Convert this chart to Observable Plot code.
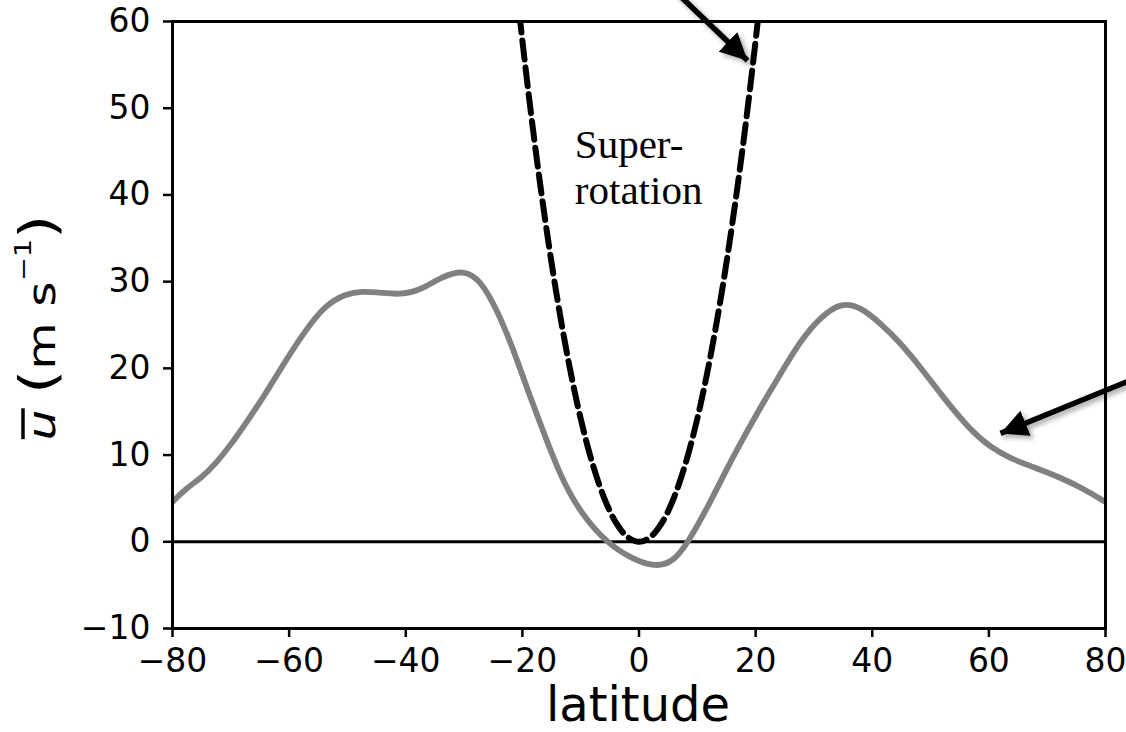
<!DOCTYPE html>
<html><head><meta charset="utf-8">
<script src="https://cdn.jsdelivr.net/npm/d3@7"></script>
<script src="https://cdn.jsdelivr.net/npm/@observablehq/plot@0.6"></script>
<style>
html,body{margin:0;padding:0;background:#fff;overflow:hidden;}
</style></head><body><div id="chart"></div>
<script>
const obsLat = [-80, -77.8, -75, -72.6, -70, -67.5, -64, -60.6, -57.2, -53.8, -50.3, -47.6, -44, -40.9, -37.5, -34, -30.1, -27.2, -24.3, -21.5, -19.1, -16.9, -13.4, -10, -5.4, -1.4, 2.8, 5.9, 8.3, 11.8, 15.2, 17.5, 20.9, 24.3, 27.7, 31.1, 34.6, 38, 41.4, 44.9, 48.3, 52, 56.9, 60.3, 63.7, 67.7, 72.3, 75.7, 80];
const obsU = [4.6, 6.1, 7.4, 9.0, 11.2, 13.6, 17.1, 20.9, 24.4, 27.3, 28.6, 28.9, 28.7, 28.5, 29.0, 30.5, 31.4, 30.2, 26.7, 22.1, 17.5, 13.6, 7.4, 3.3, -0.2, -1.9, -2.95, -2.3, -0.2, 4.0, 8.6, 11.5, 15.6, 19.4, 23.2, 25.9, 27.6, 27.1, 25.2, 22.9, 20.1, 16.8, 12.8, 10.9, 9.6, 8.6, 7.4, 6.3, 4.6];
// Angular-momentum-conserving wind (dashed curve)
const amcLat = [-22, -20, -18, -16, -14, -12, -10, -8, -6, -4, -2, 0, 2, 4, 6, 8, 10, 12, 14, 16, 18, 20, 22];
const amcU = [70.2, 57.8, 46.6, 36.7, 28.0, 20.5, 14.2, 9.08, 5.10, 2.26, 0.57, 0, 0.57, 2.26, 5.10, 9.08, 14.2, 20.5, 28.0, 36.7, 46.6, 57.8, 70.2];
// Tick values
const xTicks = [-80, -60, -40, -20, 0, 20, 40, 60, 80];
const yTicks = [-10, 0, 10, 20, 30, 40, 50, 60];
// Annotation text and arrows (data units)
const annotationText = ["Super-\nrotation"];
const annotationLat = [-11];
const annotationU = [47.9];
const arrowX1 = [5.4, 86];
const arrowY1 = [64.0, 19.1];
const arrowX2 = [18.6, 62.0];
const arrowY2 = [55.5, 12.5];

const obs = obsLat.map((x, i) => ({x, u: obsU[i]}));
const amc = amcLat.map((x, i) => ({x, u: amcU[i]}));
const notes = annotationText.map((t, i) => ({t, x: annotationLat[i], u: annotationU[i]}));
const arrows = arrowX1.map((x1, i) => ({x1, y1: arrowY1[i], x2: arrowX2[i], y2: arrowY2[i]}));
const fmt = d => d < 0 ? "\u2212" + Math.abs(d) : String(d);

const plot = Plot.plot({
  width: 1126, height: 732,
  marginLeft: 172, marginRight: 21, marginTop: 21, marginBottom: 104,
  style: {fontFamily: "DejaVu Sans", fontSize: "33px", color: "#000", background: "#fff", overflow: "hidden"},
  x: {domain: [-80, 80]},
  y: {domain: [-10, 60]},
  marks: [
    Plot.ruleY([0], {stroke: "#000", strokeWidth: 3}),
    Plot.line(amc, {x: "x", y: "u", stroke: "#000", strokeWidth: 6, strokeDasharray: "19,8", curve: "catmull-rom", clip: true}),
    Plot.line(obs, {x: "x", y: "u", stroke: "#808080", strokeWidth: 5.8, curve: "basis", clip: true}),
    Plot.frame({stroke: "#000", strokeWidth: 3}),
    Plot.axisX({ticks: xTicks, tickSize: 9, tickPadding: 11, strokeWidth: 2.5, label: null, tickFormat: fmt}),
    Plot.axisY({ticks: yTicks, tickSize: 9, tickPadding: 13, strokeWidth: 2.5, label: null, tickFormat: fmt}),
    Plot.text(notes, {x: "x", y: "u", text: "t", textAnchor: "start", lineAnchor: "top", lineHeight: 1.1, fontFamily: "Liberation Serif", fontSize: 41, fill: "#000"}),
    Plot.link(arrows, {x1: "x1", y1: "y1", x2: "x2", y2: "y2", stroke: "#000", strokeWidth: 5.5, className: "annot-arrow"})
  ]
});
document.getElementById("chart").appendChild(plot);

const svg = d3.select(plot);
const defs = svg.insert("defs", ":first-child");
const f = defs.append("filter").attr("id", "shadow").attr("x", "-50%").attr("y", "-50%").attr("width", "200%").attr("height", "200%");
f.append("feDropShadow").attr("dx", 3).attr("dy", 3).attr("stdDeviation", 2.5).attr("flood-color", "#000").attr("flood-opacity", 0.35);
defs.append("marker").attr("id", "head").attr("markerUnits", "userSpaceOnUse")
  .attr("viewBox", "0 0 27 27").attr("refX", 27).attr("refY", 13.5)
  .attr("markerWidth", 27).attr("markerHeight", 27).attr("orient", "auto")
  .append("path").attr("d", "M0,0 L27,13.5 L0,27 Z").attr("fill", "#000");
svg.selectAll(".annot-arrow").attr("filter", "url(#shadow)");
svg.selectAll(".annot-arrow path").attr("marker-end", "url(#head)");

// Axis titles
svg.append("text").attr("x", 638).attr("y", 721).attr("text-anchor", "middle")
  .attr("font-family", "DejaVu Sans").attr("font-size", 48).attr("fill", "#000").text("latitude");

const g = svg.append("g").attr("transform", "translate(55,327.5) rotate(-90) scale(1.25,1)");
const yl = g.append("text").attr("x", 0).attr("y", 0).attr("text-anchor", "middle")
  .attr("font-family", "DejaVu Sans").attr("font-size", 39).attr("fill", "#000");
yl.append("tspan").attr("font-style", "italic").text("u");
yl.append("tspan").text(" ");
yl.append("tspan").attr("font-size", 50).text("(");
yl.append("tspan").text("m s");
yl.append("tspan").attr("dy", -24).attr("font-size", 23).text("\u22121");
yl.append("tspan").attr("dy", 24).attr("font-size", 50).text(")");
const ext = yl.node().getExtentOfChar(0);
g.append("line").attr("x1", ext.x + 1).attr("x2", ext.x + ext.width + 1)
  .attr("y1", -32).attr("y2", -32).attr("stroke", "#000").attr("stroke-width", 3.5);
</script>
</body></html>
